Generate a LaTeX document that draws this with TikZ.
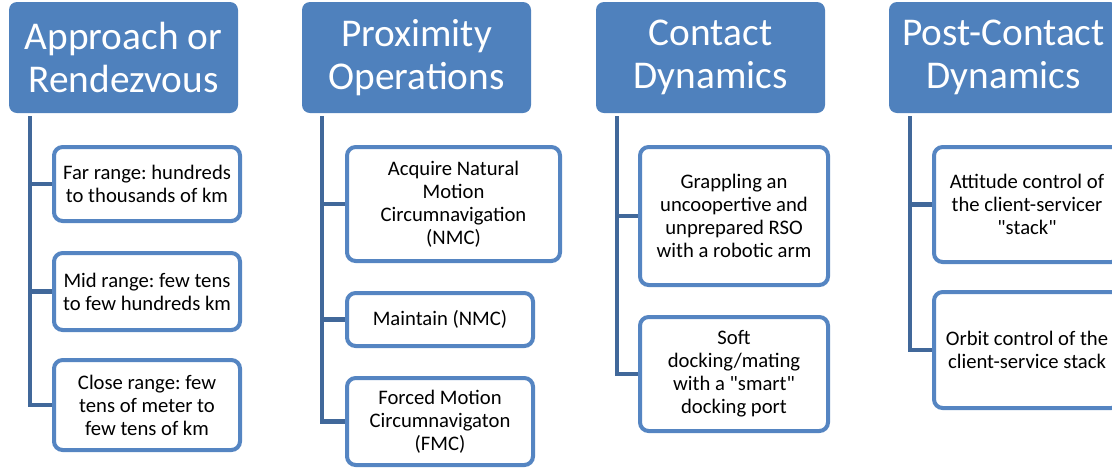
\documentclass[tikz,border=0pt]{standalone}
\usepackage{fontspec}
\setmainfont{Carlito}[Ligatures=TeXOff]
\frenchspacing
\definecolor{hfill}{HTML}{4F81BD}
\definecolor{bdr}{HTML}{5585C2}
\definecolor{conn}{HTML}{41689A}
\tikzset{
  hdr/.style={fill=hfill, text=white, rounded corners=6pt, inner sep=0pt, align=center,
    minimum width=171.75pt, minimum height=83.25pt,
    font=\fontsize{29.5}{32.3}\selectfont},
  child/.style={draw=bdr, line width=3pt, fill=white, rounded corners=6.5pt, inner sep=0pt,
    align=center, font=\fontsize{15.5}{17.3}\selectfont},
  trunk/.style={draw=conn, line width=3.4pt, line join=miter},
}
\begin{document}
\begin{tikzpicture}[x=0.75pt, y=-0.75pt]
\useasboundingbox (0,0) rectangle (1112,469);
\clip (0,0) rectangle (1112,469);
% headers
\node[hdr] (h1) at (123.5,57.5) {Approach or\\Rendezvous};
\node[hdr] (h2) at (416.5,57.5) {Proximity\\Operations};
\node[hdr] (h3) at (710.5,57.5) {Contact\\Dynamics};
\node[hdr] (h4) at (1003.5,57.5) {Post-Contact\\Dynamics};
% column 1
\node[child, minimum width=139.5pt, minimum height=55.5pt] (c11) at (147,184) {Far range: hundreds\\to thousands of km};
\node[child, minimum width=139.5pt, minimum height=57.75pt] (c12) at (147,291.5) {Mid range: few tens\\to few hundreds km};
\node[child, minimum width=139.5pt, minimum height=67.5pt] (c13) at (147,405) {Close range: few\\tens of meter to\\few tens of km};
% column 2
\node[child, minimum width=159.75pt, minimum height=85.5pt] (c21) at (453.5,204) {Acquire Natural\\Motion\\Circumnavigation\\(NMC)};
\node[child, minimum width=139.5pt, minimum height=39.75pt] (c22) at (440,319.5) {Maintain (NMC)};
\node[child, minimum width=139.5pt, minimum height=65.25pt] (c23) at (440,421.5) {Forced Motion\\Circumnavigaton\\(FMC)};
% column 3
\node[child, minimum width=141pt, minimum height=103.5pt] (c31) at (734,216) {Grappling an\\uncoopertive and\\unprepared RSO\\with a robotic arm};
\node[child, minimum width=141pt, minimum height=85.5pt] (c32) at (734,374) {Soft\\docking/mating\\with a "smart"\\docking port};
% column 4
\node[child, minimum width=139.5pt, minimum height=86.25pt] (c41) at (1027,204.5) {Attitude control of\\the client-servicer\\"stack"};
\node[child, minimum width=139.5pt, minimum height=87pt] (c42) at (1027,350) {Orbit control of the\\client-service stack};
% trunk start points
\coordinate (t1) at (30,116);
\coordinate (t2) at (322,116);
\coordinate (t3) at (617,116);
\coordinate (t4) at (910,116);
% connectors
\draw[trunk] (t1) |- (c13.west);
\draw[trunk] (t1 |- c11.west) -- (c11.west);
\draw[trunk] (t1 |- c12.west) -- (c12.west);
\draw[trunk] (t2) |- (c23.west);
\draw[trunk] (t2 |- c21.west) -- (c21.west);
\draw[trunk] (t2 |- c22.west) -- (c22.west);
\draw[trunk] (t3) |- (c32.west);
\draw[trunk] (t3 |- c31.west) -- (c31.west);
\draw[trunk] (t4) |- (c42.west);
\draw[trunk] (t4 |- c41.west) -- (c41.west);
\end{tikzpicture}
\end{document}
